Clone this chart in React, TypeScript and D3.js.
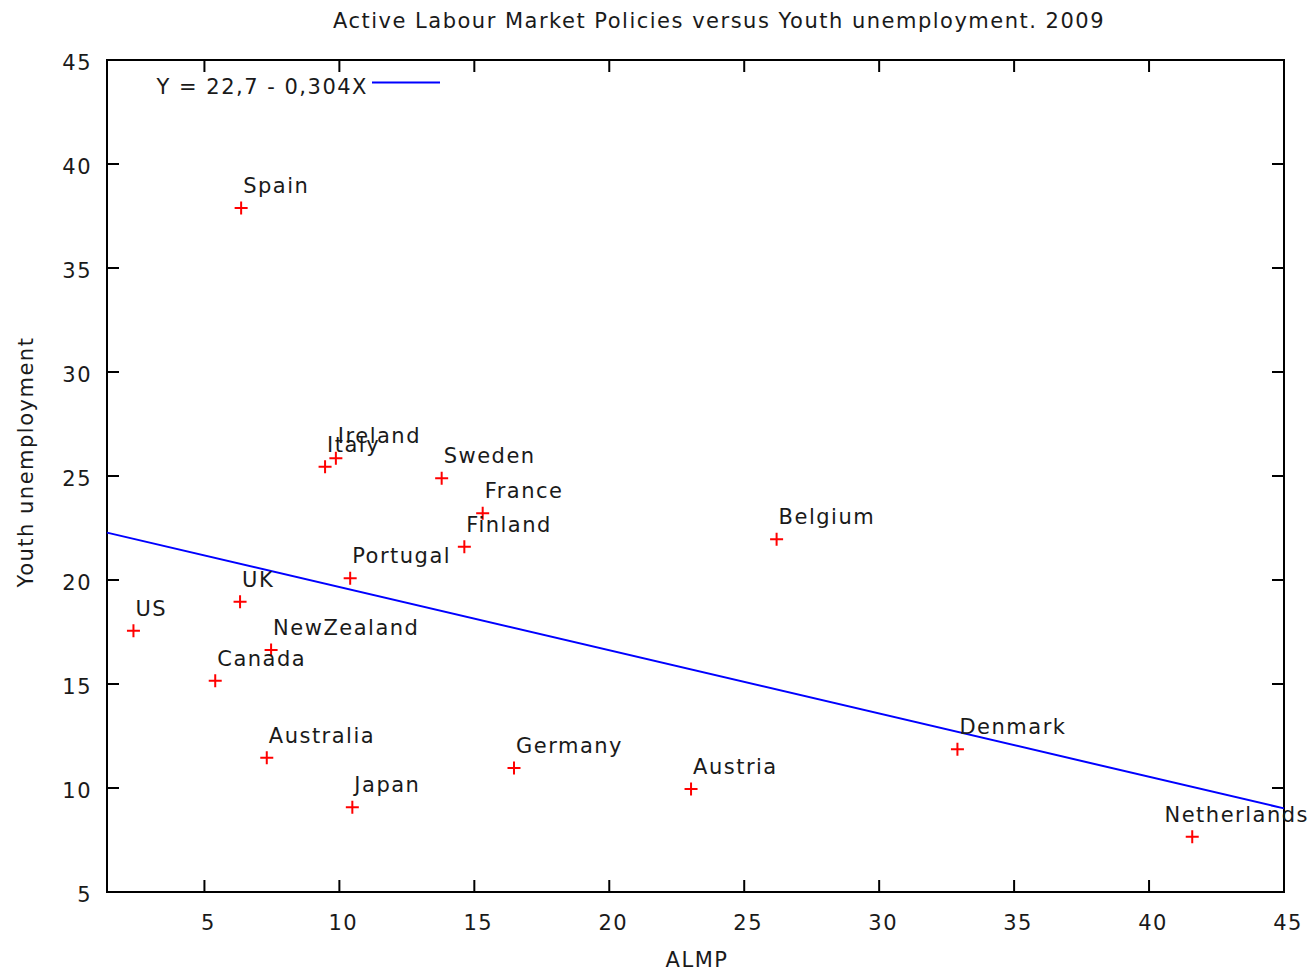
import React, { useEffect, useRef } from 'react';
import * as d3 from 'd3';

const countries = ['Spain', 'Italy', 'Ireland', 'Sweden', 'France', 'Finland', 'Portugal', 'Belgium', 'UK', 'US', 'NewZealand', 'Canada', 'Australia', 'Japan', 'Germany', 'Austria', 'Denmark', 'Netherlands'];
const almp = [6.36, 9.47, 9.87, 13.79, 15.31, 14.63, 10.4, 26.2, 6.32, 2.37, 7.47, 5.4, 7.31, 10.48, 16.47, 23.03, 32.9, 41.6];
const youthUnemp = [37.88, 25.45, 25.85, 24.89, 23.21, 21.6, 20.08, 21.96, 18.96, 17.56, 16.63, 15.16, 11.46, 9.07, 10.96, 9.95, 11.86, 7.66];

const xTicks = [5, 10, 15, 20, 25, 30, 35, 40, 45];
const yTicks = [5, 10, 15, 20, 25, 30, 35, 40, 45];

const intercept = 22.7;
const slope = -0.304;
const fitLabel = 'Y = 22,7 - 0,304X';

const W = 1312;
const H = 971;
const FONT = '"DejaVu Sans", Verdana, sans-serif';

const App = () => {
  const svgRef = useRef(null);

  useEffect(() => {
    const svg = d3.select(svgRef.current);
    svg.selectAll('*').remove();

    const left = 107, right = 1284, top = 60, bottom = 892;
    const x = d3.scaleLinear().domain([1.39, 45]).range([left, right]);
    const y = d3.scaleLinear().domain([5, 45]).range([bottom, top]);

    const txt = (sel) => sel
      .style('font-family', FONT)
      .style('font-size', '21px')
      .style('letter-spacing', '1.5px')
      .style('fill', '#1a1a1a');

    svg.append('rect').attr('width', W).attr('height', H).attr('fill', '#fff');

    // title
    svg.append('text')
      .attr('x', 719).attr('y', 28)
      .attr('text-anchor', 'middle')
      .text('Active Labour Market Policies versus Youth unemployment. 2009')
      .call(txt);

    const g = svg.append('g');

    // ticks on all four sides, inward
    const tl = 12;
    xTicks.forEach(t => {
      g.append('line').attr('x1', x(t)).attr('x2', x(t)).attr('y1', bottom).attr('y2', bottom - tl)
        .attr('stroke', '#000').attr('stroke-width', 2);
      g.append('line').attr('x1', x(t)).attr('x2', x(t)).attr('y1', top).attr('y2', top + tl)
        .attr('stroke', '#000').attr('stroke-width', 2);
      g.append('text').attr('x', x(t) + 4).attr('y', bottom + 38)
        .attr('text-anchor', 'middle').text(t).call(txt);
    });
    yTicks.forEach(t => {
      g.append('line').attr('x1', left).attr('x2', left + tl).attr('y1', y(t)).attr('y2', y(t))
        .attr('stroke', '#000').attr('stroke-width', 2);
      g.append('line').attr('x1', right).attr('x2', right - tl).attr('y1', y(t)).attr('y2', y(t))
        .attr('stroke', '#000').attr('stroke-width', 2);
      g.append('text').attr('x', 92).attr('y', y(t) + 10)
        .attr('text-anchor', 'end').text(t).call(txt);
    });

    // regression line
    const [x0, x1] = x.domain();
    svg.append('line')
      .attr('x1', x(x0)).attr('y1', y(intercept + slope * x0))
      .attr('x2', x(x1)).attr('y2', y(intercept + slope * x1))
      .attr('stroke', '#0000ff').attr('stroke-width', 2);

    // legend
    svg.append('text').attr('x', 368).attr('y', 94).attr('text-anchor', 'end').text(fitLabel).call(txt);
    svg.append('line').attr('x1', 372).attr('x2', 440).attr('y1', 82.5).attr('y2', 82.5)
      .attr('stroke', '#0000ff').attr('stroke-width', 2);

    // points
    const pts = countries.map((c, i) => ({ c, px: x(almp[i]), py: y(youthUnemp[i]) }));
    const s = 6.5;
    pts.forEach(p => {
      svg.append('path')
        .attr('d', `M${p.px - s},${p.py}H${p.px + s}M${p.px},${p.py - s}V${p.py + s}`)
        .attr('stroke', '#ff0000').attr('stroke-width', 2).attr('fill', 'none');
    });

    // labels (kept inside canvas)
    pts.forEach(p => {
      const t = svg.append('text')
        .attr('x', p.px + 2).attr('y', p.py - 15)
        .text(p.c).call(txt);
      const w = t.node().getComputedTextLength();
      if (p.px + 2 + w > W - 3) t.attr('x', W - 3 - w);
    });

    // frame
    g.append('rect').attr('x', left).attr('y', top).attr('width', right - left).attr('height', bottom - top)
      .attr('fill', 'none').attr('stroke', '#000').attr('stroke-width', 2);

    // axis titles
    svg.append('text').attr('x', 697).attr('y', 967).attr('text-anchor', 'middle').text('ALMP').call(txt);
    svg.append('text')
      .attr('transform', 'translate(33,462) rotate(-90)')
      .attr('text-anchor', 'middle').text('Youth unemployment').call(txt);
  }, []);

  return (
    <svg ref={svgRef} width={W} height={H} style={{ position: 'absolute', left: 0, top: 0 }}></svg>
  );
};

export default App;
